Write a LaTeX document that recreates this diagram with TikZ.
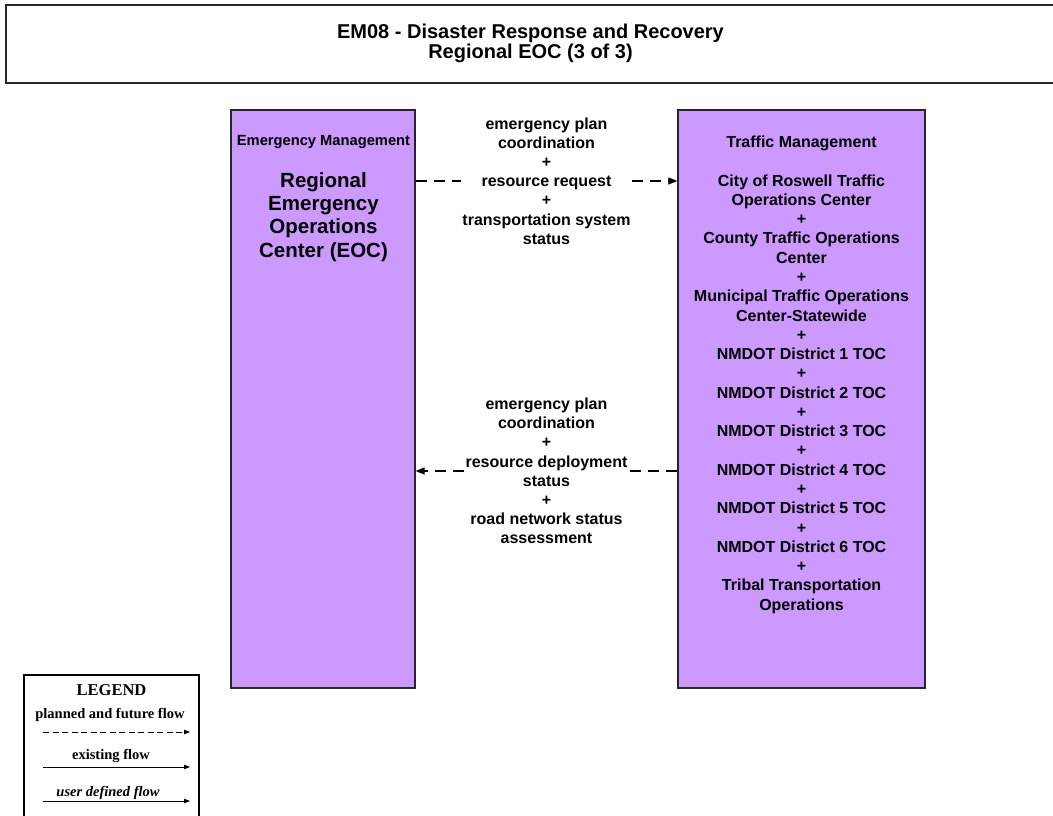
\documentclass[tikz,border=0pt]{standalone}
\usepackage{fontspec}
\setmainfont{Liberation Sans}
\newfontfamily\tmsfont{Liberation Serif}
\usetikzlibrary{arrows.meta}
\definecolor{boxpurple}{HTML}{CC99FF}
\begin{document}
\begin{tikzpicture}[x=1pt,y=-1pt,
  outline/.style={draw=black!85, line width=1.3pt, inner sep=0pt},
  sysbox/.style={outline, fill=boxpurple},
  hdr/.style={font=\fontsize{14.7}{17}\selectfont\bfseries, align=center, inner sep=0pt},
  bigname/.style={font=\fontsize{20.5}{23.3}\selectfont\bfseries, align=center, inner sep=0pt},
  txt/.style={font=\fontsize{16}{19.27}\selectfont\bfseries, align=center, inner sep=0pt},
  flowlbl/.style={font=\fontsize{16}{19.2}\selectfont\bfseries, align=center, inner xsep=1.5pt, inner ysep=0pt},
  planned/.style={line width=1.2pt, dash pattern=on 11pt off 7pt},
  tip/.style={-{Triangle[length=9pt,width=7pt]}},
  legtxt/.style={font=\tmsfont\fontsize{14.5}{17}\selectfont\bfseries, inner sep=0pt},
  legtip/.style={-{Triangle[length=6pt,width=4.5pt]}, line width=1pt}
]
\useasboundingbox (0,0) rectangle (1053,815);

% title
\node[outline, fill=white, minimum width=1049pt, minimum height=78pt] (titlebox) at (530.5,44) {};
\node[font=\fontsize{20}{20}\selectfont\bfseries, align=center, inner sep=0pt] (title) at (530.5,43.5)
  {EM08 - Disaster Response and Recovery\\Regional EOC (3 of 3)};

% system boxes
\node[sysbox, minimum width=184pt, minimum height=578pt] (eoc) at (323,399) {};
\node[sysbox, minimum width=247pt, minimum height=578pt] (tm) at (801.5,399) {};

\node[hdr] (eochdr) at (323.5,142) {Emergency Management};
\node[bigname] (eocname) at (323.5,217) {Regional\\Emergency\\Operations\\Center (EOC)};

\node[txt] (tmhdr) at (801.5,143) {Traffic Management};
\node[txt] (tmlist) at (801.5,394) {City of Roswell Traffic\\Operations Center\\+\\County Traffic Operations\\Center\\+\\Municipal Traffic Operations\\Center-Statewide\\+\\NMDOT District 1 TOC\\+\\NMDOT District 2 TOC\\+\\NMDOT District 3 TOC\\+\\NMDOT District 4 TOC\\+\\NMDOT District 5 TOC\\+\\NMDOT District 6 TOC\\+\\Tribal Transportation\\Operations};

% flows
\node[flowlbl] (f1) at (546.5,181) {emergency plan\\coordination\\+\\resource request\\+\\transportation system\\status};
\draw[planned] (eoc.east |- f1.west) -- (f1.west);
\draw[planned, tip] (f1.east) -- (tm.west |- f1.east);

\node[flowlbl] (f2) at (546.5,471) {emergency plan\\coordination\\+\\resource deployment\\status\\+\\road network status\\assessment};
\draw[planned] (tm.west |- f2.east) -- (f2.east);
\draw[planned, tip] (f2.west) -- (eoc.east |- f2.west);

% legend
\node[draw=black, line width=1.2pt, fill=white, minimum width=175pt, minimum height=160pt, inner sep=0pt] (legend) at (111.5,755) {};
\node[legtxt, font=\tmsfont\fontsize{16.5}{17}\selectfont\bfseries] (legtitle) at (111.5,690) {LEGEND};
\node[legtxt] (leg1) at (110,715) {planned and future flow};
\coordinate (l1a) at (43,732); \coordinate (l1b) at (190,732);
\draw[legtip, dash pattern=on 6pt off 3.5pt] (l1a) -- (l1b);
\node[legtxt] (leg2) at (111,756) {existing flow};
\coordinate (l2a) at (43,767); \coordinate (l2b) at (190,767);
\draw[legtip] (l2a) -- (l2b);
\node[legtxt, font=\tmsfont\fontsize{14.5}{17}\selectfont\bfseries\itshape] (leg3) at (108,793) {user defined flow};
\coordinate (l3a) at (43,801); \coordinate (l3b) at (190,801);
\draw[legtip] (l3a) -- (l3b);
\end{tikzpicture}
\end{document}
